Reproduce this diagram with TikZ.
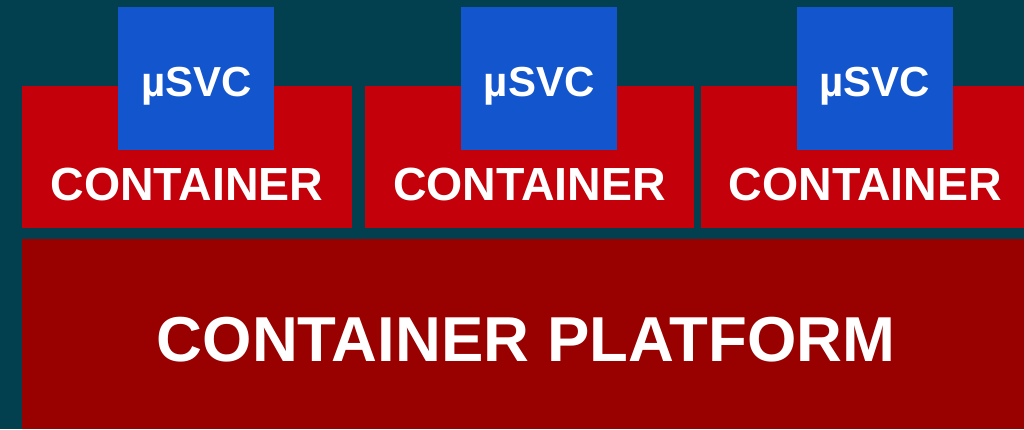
\documentclass[tikz,border=0pt]{standalone}
\usepackage{fontspec}
\setmainfont{Liberation Sans}
\definecolor{bgc}{HTML}{03404F}
\definecolor{contred}{HTML}{C4000B}
\definecolor{svcblue}{HTML}{1255CC}
\definecolor{platred}{HTML}{990000}
\begin{document}
\begin{tikzpicture}[x=1bp,y=-1bp,
  boxbase/.style={rectangle,inner sep=0pt,outer sep=0pt},
  contbox/.style={boxbase,fill=contred,minimum height=142bp},
  svcbox/.style={boxbase,fill=svcblue,minimum width=156.5bp,minimum height=142.4bp},
  platbox/.style={boxbase,fill=platred,minimum width=1002bp,minimum height=189.7bp},
  contlabel/.style={inner sep=0pt,anchor=base,text=white,font=\fontsize{46.5bp}{50bp}\selectfont\bfseries},
  svclabel/.style={inner sep=0pt,anchor=base,text=white,font=\fontsize{42bp}{48bp}\selectfont\bfseries},
  platlabel/.style={inner sep=0pt,anchor=base,text=white,font=\fontsize{63.5bp}{70bp}\selectfont\bfseries}]
\fill[bgc] (0,0) rectangle (1024,429);
\useasboundingbox (0,0) rectangle (1024,429);
% containers
\node[contbox,minimum width=330bp] (c1) at (187,157) {};
\node[contbox,minimum width=329bp] (c2) at (529.8,157) {};
\node[contbox,minimum width=323bp] (c3) at (862.5,157) {};
% services
\node[svcbox] (s1) at (196.2,78.5) {};
\node[svcbox] (s2) at (538.8,78.5) {};
\node[svcbox] (s3) at (874.8,78.5) {};
% platform
\node[platbox] (p) at (523,334.2) {};
% labels
\node[contlabel] (t1) at (187,200) {CONTAINER};
\node[contlabel] (t2) at (529.5,200) {CONTAINER};
\node[contlabel] (t3) at (865.3,200) {CONTAINER};
\node[svclabel] (u1) at (196.5,96.7) {µSVC};
\node[svclabel] (u2) at (539.2,96.7) {µSVC};
\node[svclabel] (u3) at (875,96.7) {µSVC};
\node[platlabel] (pt) at (526,361.7) {CONTAINER PLATFORM};
\end{tikzpicture}
\end{document}
